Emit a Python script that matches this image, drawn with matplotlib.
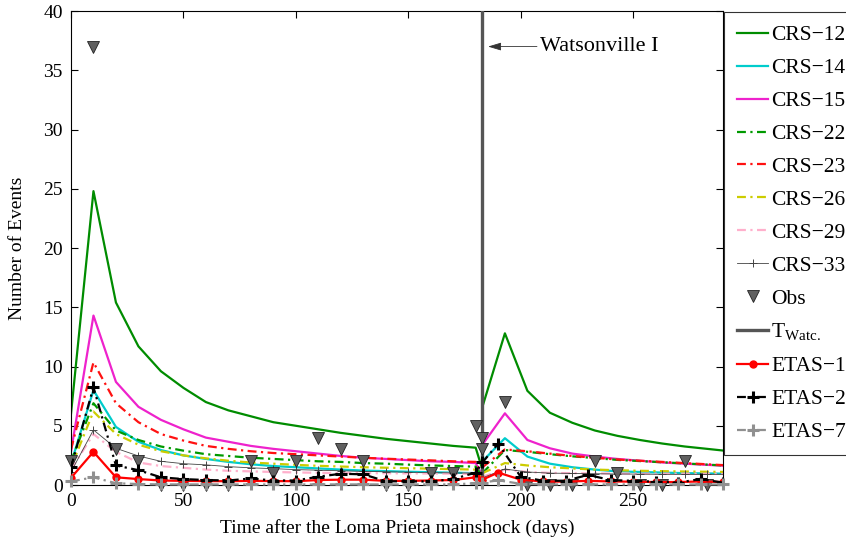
import numpy as np
import matplotlib.pyplot as plt

plt.rcParams['font.family'] = ['Liberation Serif', 'DejaVu Serif']
plt.rcParams['mathtext.fontset'] = 'custom'
plt.rcParams['mathtext.rm'] = 'Liberation Serif'

T_WATC = 183  # Watsonville I, days after Loma Prieta

# CRS forecasts, before and after Watsonville
t_pre = [0, 10, 20, 30, 40, 50, 60, 70, 80, 90, 100, 110, 120, 130, 140, 150, 160, 170, 180, 183]
t_post = [183, 193, 203, 213, 223, 233, 243, 253, 263, 273, 283, 293]

crs12_pre = [6.0, 24.8, 15.4, 11.7, 9.6, 8.2, 7.0, 6.3, 5.8, 5.3, 5.0, 4.7, 4.4, 4.15, 3.9, 3.7, 3.5, 3.3, 3.15, 1.3]
crs12_post = [6.6, 12.8, 7.95, 6.1, 5.25, 4.6, 4.15, 3.8, 3.5, 3.25, 3.05, 2.85]
crs14_pre = [1.8, 8.0, 4.9, 3.65, 2.95, 2.5, 2.2, 1.95, 1.75, 1.6, 1.5, 1.4, 1.3, 1.22, 1.17, 1.12, 1.08, 1.04, 1.0, 0.5]
crs14_post = [2.0, 3.95, 2.4, 1.8, 1.5, 1.3, 1.15, 1.1, 1.05, 1.0, 0.98, 0.95]
crs15_pre = [2.8, 14.3, 8.7, 6.6, 5.5, 4.7, 4.0, 3.65, 3.3, 3.05, 2.85, 2.65, 2.45, 2.3, 2.2, 2.1, 2.0, 1.95, 1.85, 0.8]
crs15_post = [3.4, 6.05, 3.8, 3.1, 2.65, 2.4, 2.2, 2.05, 1.9, 1.8, 1.7, 1.6]
crs22_pre = [2.0, 6.9, 4.6, 3.8, 3.25, 2.9, 2.6, 2.45, 2.3, 2.2, 2.1, 2.0, 1.95, 1.85, 1.8, 1.72, 1.65, 1.6, 1.55, 0.7]
crs22_post = [1.0, 2.95, 2.8, 2.6, 2.42, 2.27, 2.12, 2.02, 1.92, 1.82, 1.72, 1.62]
crs23_pre = [3.0, 10.35, 6.9, 5.3, 4.3, 3.75, 3.3, 3.05, 2.85, 2.7, 2.6, 2.5, 2.4, 2.3, 2.22, 2.15, 2.08, 2.0, 1.95, 0.8]
crs23_post = [1.5, 3.0, 2.85, 2.65, 2.45, 2.3, 2.15, 2.05, 1.95, 1.85, 1.75, 1.65]
crs26_pre = [1.5, 6.2, 4.3, 3.4, 2.85, 2.5, 2.25, 2.05, 1.9, 1.8, 1.7, 1.62, 1.56, 1.5, 1.46, 1.42, 1.38, 1.34, 1.3, 0.6]
crs26_post = [1.0, 1.85, 1.65, 1.5, 1.4, 1.3, 1.25, 1.2, 1.17, 1.14, 1.12, 1.1]
crs29_pre = [1.3, 4.3, 2.8, 1.9, 1.6, 1.45, 1.3, 1.2, 1.15, 1.1, 1.06, 1.03, 1.01, 1.0, 0.99, 0.98, 0.97, 0.96, 0.95, 0.4]
crs29_post = [0.7, 1.3, 1.1, 1.02, 1.0, 0.98, 0.97, 0.96, 0.95, 0.95, 0.94, 0.93]
crs33_pre = [1.1, 4.65, 3.1, 2.45, 2.0, 1.8, 1.7, 1.55, 1.45, 1.38, 1.3, 1.25, 1.2, 1.15, 1.12, 1.08, 1.05, 1.02, 1.0, 0.4]
crs33_post = [0.6, 1.35, 1.1, 1.0, 0.98, 0.95, 0.93, 0.92, 0.9, 0.9, 0.9, 0.9]

# observed counts
t_obs = [0, 10, 20, 30, 40, 50, 60, 70, 80, 90, 100, 110, 120, 130, 140, 150, 160, 170, 180, 183,
         183, 193, 203, 213, 223, 233, 243, 253, 263, 273, 283]
obs = [2, 37, 3, 2, 0, 0, 0, 0, 2, 1, 2, 4, 3, 2, 0, 0, 1, 1, 5, 4,
       3, 7, 0, 0, 0, 2, 1, 0, 0, 2, 0]

# ETAS forecasts
t_etas = [0, 10, 20, 30, 40, 50, 60, 70, 80, 90, 100, 110, 120, 130, 140, 150, 160, 170, 180, 183,
          190, 200, 210, 220, 230, 240, 250, 260, 270, 280, 290]
etas1 = [0.6, 2.8, 0.65, 0.5, 0.38, 0.35, 0.33, 0.32, 0.35, 0.33, 0.32, 0.42, 0.45, 0.45, 0.35, 0.35, 0.38, 0.42, 0.65, 0.45,
         1.05, 0.45, 0.3, 0.28, 0.35, 0.3, 0.28, 0.25, 0.25, 0.3, 0.25]
etas2 = [1.5, 8.25, 1.65, 1.25, 0.65, 0.5, 0.42, 0.38, 0.55, 0.38, 0.38, 0.7, 0.95, 0.9, 0.32, 0.3, 0.3, 0.5, 1.05, 1.9,
         3.5, 0.7, 0.36, 0.36, 0.85, 0.42, 0.35, 0.28, 0.2, 0.5, 0.2]
etas7 = [0.3, 0.65, 0.15, 0.08, 0.05, 0.05, 0.05, 0.05, 0.05, 0.05, 0.05, 0.05, 0.05, 0.05, 0.05, 0.05, 0.05, 0.05, 0.15, 0.2,
         0.4, 0.1, 0.05, 0.05, 0.05, 0.05, 0.05, 0.05, 0.05, 0.05, 0.05]

fig = plt.figure(figsize=(8.46, 5.43), dpi=100)
ax = fig.add_axes([0.0839, 0.1068, 0.7707, 0.8729])

dd = (4, 2, 1, 2)
crs = [
    ('CRS\u221212', crs12_pre, crs12_post, dict(color='#008c00', lw=1.6)),
    ('CRS\u221214', crs14_pre, crs14_post, dict(color='#00cccc', lw=1.6)),
    ('CRS\u221215', crs15_pre, crs15_post, dict(color='#ee22cc', lw=1.6)),
    ('CRS\u221222', crs22_pre, crs22_post, dict(color='#009900', lw=1.6, dashes=dd)),
    ('CRS\u221223', crs23_pre, crs23_post, dict(color='#ff1111', lw=1.6, dashes=dd)),
    ('CRS\u221226', crs26_pre, crs26_post, dict(color='#cccc00', lw=1.6, dashes=dd)),
    ('CRS\u221229', crs29_pre, crs29_post, dict(color='#ffb0cc', lw=1.6, dashes=dd)),
    ('CRS\u221233', crs33_pre, crs33_post, dict(color='#444444', lw=0.6, marker='+', ms=6, mew=0.7)),
]
for name, pre, post, st in crs:
    ax.plot(t_pre, pre, label=name, **st)
    ax.plot(t_post, post, **st)

ax.plot(t_obs, obs, 'v', color='#606060', mec='#222222', mew=0.6, ms=9, ls='none',
        label='Obs', clip_on=False, zorder=5)
ax.axvline(T_WATC, color='#555555', lw=2.4, label=r'T$_{\mathrm{Watc.}}$', zorder=4)

ax.plot(t_etas, etas1, '-o', color='red', lw=1.6, ms=5, label='ETAS\u22121', zorder=6)
ax.plot(t_etas, etas2, color='black', lw=1.6, dashes=(4, 2, 1, 2), marker='+', ms=8, mew=2.2,
        label='ETAS\u22122', zorder=6)
ax.plot(t_etas, etas7, color='#909090', lw=1.6, dashes=(4, 2, 1, 2), marker='+', ms=8, mew=2.2,
        label='ETAS\u22127', clip_on=False, zorder=6)

ax.annotate('Watsonville I', xy=(185.5, 37), xytext=(208.5, 37), fontsize=16, va='center',
            arrowprops=dict(arrowstyle='-|>,head_length=0.5,head_width=0.15', color='#333333',
                            lw=0.6, shrinkA=0, shrinkB=0))

ax.set_xlim(0, 290)
ax.set_ylim(0, 40)
ax.set_xticks([0, 50, 100, 150, 200, 250])
ax.set_yticks(np.arange(0, 41, 5))
ax.tick_params(direction='in', top=True, right=True, labelsize=14, length=5, pad=6)
ax.set_xlabel('Time after the Loma Prieta mainshock (days)', fontsize=14, labelpad=6)
ax.set_ylabel('Number of Events', fontsize=14, labelpad=12)

leg = ax.legend(loc='upper left', bbox_to_anchor=(1.0, 1.0), borderaxespad=0.05,
                fontsize=15.5, labelspacing=0.6, handlelength=1.45, handletextpad=0.15,
                borderpad=0.6, frameon=True, fancybox=False, edgecolor='black')
leg.get_frame().set_linewidth(0.8)

fig.savefig('out.png', dpi=100)
